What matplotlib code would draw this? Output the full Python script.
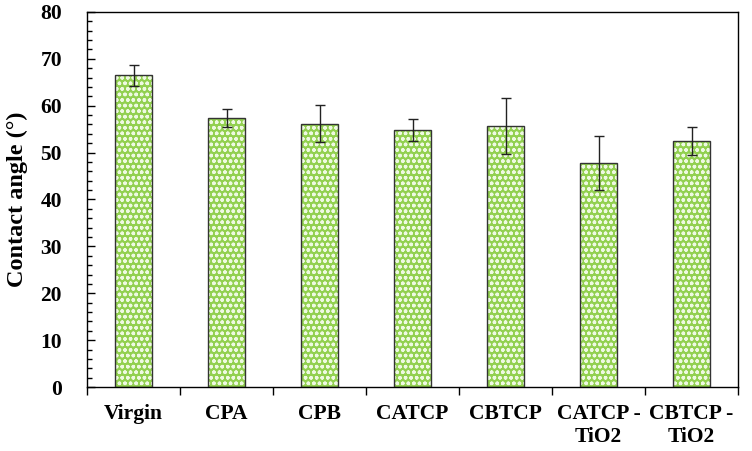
import matplotlib
matplotlib.use("Agg")
import matplotlib.pyplot as plt
import numpy as np
from matplotlib.ticker import MultipleLocator, FixedLocator

categories = ["Virgin", "CPA", "CPB", "CATCP", "CBTCP", "CATCP -\nTiO2", "CBTCP -\nTiO2"]
values = [66.5, 57.4, 56.2, 54.8, 55.7, 47.8, 52.5]
errors = [2.2, 2.0, 3.9, 2.3, 5.9, 5.8, 3.0]

plt.rcParams['font.family'] = ['Liberation Serif', 'DejaVu Serif']
plt.rcParams['hatch.linewidth'] = 1.0

fig = plt.figure(figsize=(7.52, 4.51), dpi=100)
ax = fig.add_axes([0.1157, 0.1419, 0.9814 - 0.1157, 0.9734 - 0.1419])

x = np.arange(len(categories))
# patterned fill
ax.bar(x, values, width=0.4, color='#92d050', edgecolor='#eef9e2', hatch='ooo', linewidth=0, zorder=2)
# outline
ax.bar(x, values, width=0.4, fill=False, edgecolor='#333333', linewidth=1.0, zorder=3)
ax.errorbar(x, values, yerr=errors, fmt='none', ecolor='#222222', elinewidth=1.0,
            capsize=3.5, capthick=1.0, zorder=4)

ax.set_xlim(-0.5, len(categories) - 0.5)
ax.set_ylim(0, 80)
ax.yaxis.set_major_locator(MultipleLocator(10))
ax.yaxis.set_minor_locator(MultipleLocator(2))
ax.tick_params(axis='y', which='major', direction='in', length=6, width=1, labelsize=15.5, pad=18)
ax.tick_params(axis='y', which='minor', direction='in', length=3.5, width=1)
ax.set_xticks(x)
ax.set_xticklabels(categories, fontsize=15.5, fontweight='bold', linespacing=1.2)
ax.xaxis.set_minor_locator(FixedLocator(np.arange(-0.5, len(categories), 1.0)))
ax.tick_params(axis='x', which='major', length=0, pad=12)
ax.tick_params(axis='x', which='minor', direction='out', length=6, width=1)
for lbl in ax.get_yticklabels():
    lbl.set_fontweight('bold')

ax.set_ylabel("Contact angle (°)", fontsize=17.5, fontweight='bold', labelpad=9)
for s in ax.spines.values():
    s.set_linewidth(1.0)
    s.set_color('black')

fig.savefig("out.png", dpi=100)
